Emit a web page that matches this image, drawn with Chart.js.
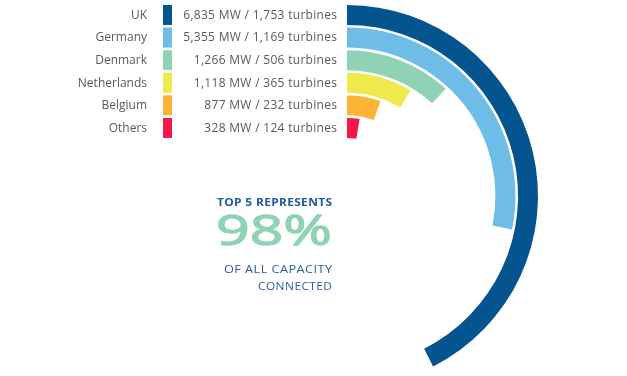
<!DOCTYPE html>
<html>
<head>
<meta charset="utf-8">
<script src="https://cdn.jsdelivr.net/npm/chart.js@4/dist/chart.umd.min.js"></script>
<style>
  html, body { margin: 0; padding: 0; background: #ffffff; }
  #wrap { position: relative; width: 627px; height: 376px; }
</style>
</head>
<body>
<div id="wrap"><canvas id="c" width="627" height="376"></canvas></div>
<script>
// ---- data ----
const countries   = ["UK", "Germany", "Denmark", "Netherlands", "Belgium", "Others"];
const capacityMW  = [6835, 5355, 1266, 1118, 877, 328];
const turbines    = [1753, 1169, 506, 365, 232, 124];
// arc length of each ring as drawn in the reference, in degrees of a full circle
const arcDegrees  = [153.2, 101.5, 42.6, 31.0, 19.4, 9.3];
const colors      = ["#03548f", "#6dbde6", "#8fd3b4", "#eee94d", "#fdb335", "#f5164b"];
const headline    = "TOP 5 REPRESENTS";
const bigValue    = "98%";
const subLines    = ["OF ALL CAPACITY", "CONNECTED"];

function fmt(n) { return n.toLocaleString("en-US"); }

// build doughnut datasets: a ring per country with a thin transparent spacer ring between
const datasets = [];
countries.forEach((c, i) => {
  datasets.push({
    label: c,
    data: [arcDegrees[i], 360 - arcDegrees[i]],
    backgroundColor: [colors[i], "rgba(0,0,0,0)"],
    borderWidth: 0,
    weight: 19.7,
    isRing: true
  });
  if (i < countries.length - 1) {
    datasets.push({
      label: "",
      data: [360],
      backgroundColor: ["rgba(0,0,0,0)"],
      borderWidth: 0,
      weight: 2.6,
      isRing: false
    });
  }
});

// draw text ending at rightX, widened (slight letter spacing + horizontal stretch) to the given width
function fitText(ctx, text, rightX, y, width, spacing, strokeW) {
  ctx.letterSpacing = (spacing || 0) + "px";
  const w0 = ctx.measureText(text).width - (spacing || 0);
  ctx.save();
  ctx.textAlign = "left";
  ctx.translate(rightX - width, y);
  ctx.scale(width / w0, 1);
  ctx.fillText(text, 0, 0);
  if (strokeW) {
    ctx.strokeStyle = ctx.fillStyle;
    ctx.lineWidth = strokeW;
    ctx.lineJoin = "round";
    ctx.strokeText(text, 0, 0);
  }
  ctx.restore();
  ctx.letterSpacing = "0px";
}

const textPlugin = {
  id: "sideText",
  afterDraw(chart) {
    const ctx = chart.ctx;
    ctx.save();
    let ringIdx = 0;
    chart.data.datasets.forEach((ds, di) => {
      if (!ds.isRing) return;
      const meta = chart.getDatasetMeta(di);
      const arc = meta.data[0];
      const cy = arc.y;
      const midR = (meta.controller.outerRadius + meta.controller.innerRadius) / 2;
      const y = cy - midR;
      const i = ringIdx++;
      const h = meta.controller.outerRadius - meta.controller.innerRadius;
      ctx.textBaseline = "middle";
      // country label
      ctx.font = "12px 'Open Sans', sans-serif";
      ctx.fillStyle = "#555a60";
      ctx.textAlign = "right";
      ctx.fillText(countries[i], 147, y + 0.5);
      // swatch
      ctx.fillStyle = colors[i];
      ctx.fillRect(163, y - h / 2, 9, h);
      // values
      ctx.fillStyle = "#555a60";
      ctx.font = "12px 'Open Sans', sans-serif";
      const txt = fmt(capacityMW[i]) + " MW / " + fmt(turbines[i]) + " turbines";
      ctx.letterSpacing = "0.3px";
      ctx.textAlign = "left";
      const w = ctx.measureText(txt).width;
      ctx.fillText(txt, 337.3 - w, y + 0.5);
      ctx.letterSpacing = "0px";
    });
    // centre text
    ctx.textBaseline = "alphabetic";
    ctx.fillStyle = "#1f5a98";
    ctx.font = "bold 11px 'Open Sans', sans-serif";
    fitText(ctx, headline, 332, 206, 115, 0.3);
    ctx.fillStyle = "#8fd3b4";
    ctx.font = "normal 42px 'Open Sans', sans-serif";
    fitText(ctx, bigValue, 332, 245, 116, 0, 1.3);
    ctx.fillStyle = "#2b5e9c";
    ctx.font = "11px 'Open Sans', sans-serif";
    fitText(ctx, subLines[0], 332, 273, 108, 0.4);
    fitText(ctx, subLines[1], 332, 290, 74, 0.4);
    ctx.restore();
  }
};

new Chart(document.getElementById("c"), {
  type: "doughnut",
  data: { labels: ["value", "rest"], datasets: datasets },
  options: {
    responsive: false,
    animation: false,
    radius: 191,
    cutout: "30.4%",
    rotation: 0,
    circumference: 360,
    layout: { padding: { left: 67, top: 16, right: 0, bottom: 0 } },
    plugins: { legend: { display: false }, tooltip: { enabled: false } }
  },
  plugins: [textPlugin]
});
</script>
</body>
</html>
